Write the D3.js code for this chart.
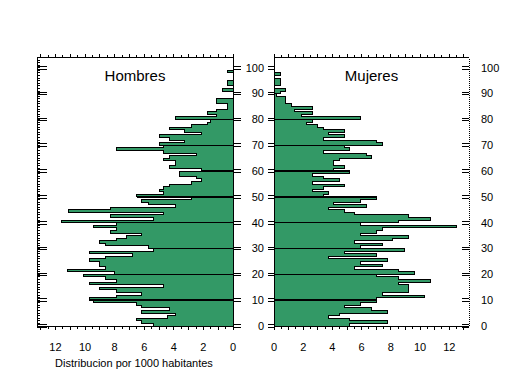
<!DOCTYPE html>
<html>
<head>
<meta charset="utf-8">
<script src="https://cdn.jsdelivr.net/npm/d3@7"></script>
<style>
  body { margin: 0; background: #fff; }
  text { font-family: 'Liberation Sans', Arial, sans-serif; fill: #000; }
</style>
</head>
<body>
<div class="canvas"></div>
<script>
'use strict';

// Distribution per 1000 inhabitants, one value per age (0..100)
var hombres = [
  5.4, 6.2, 6.5, 4.4, 3.9, 6.2, 4.3, 6.2, 6.5, 9.4,
  9.7, 7.9, 6.2, 7.9, 9.0, 4.7, 9.7, 7.9, 8.6, 10.1,
  8.0, 11.2, 8.6, 9.0, 9.0, 9.7, 8.6, 6.8, 9.7, 5.4,
  5.7, 8.6, 9.0, 7.9, 7.2, 6.2, 8.3, 7.9, 9.4, 7.9,
  11.6, 5.4, 8.3, 4.7, 11.1, 8.3, 3.9, 5.7, 6.2, 2.8,
  6.5, 4.7, 5.0, 4.7, 4.3, 2.8, 2.1, 2.5, 3.6, 3.6,
  2.1, 4.3, 3.9, 3.9, 4.7, 4.3, 2.5, 4.7, 7.9, 4.7,
  5.0, 3.3, 4.3, 5.0, 2.1, 3.3, 4.3, 2.8, 1.75, 1.5,
  3.9, 1.1, 1.75, 1.1, 0.34, 0.34, 1.1, 1.1, 0, 0,
  0, 0.7, 0, 0.34, 0.34, 0, 0, 0, 0.34, 0, 0
];
var mujeres = [
  5.2, 7.8, 5.2, 3.7, 4.5, 7.8, 6.7, 4.8, 5.9, 7.0,
  7.0, 10.3, 7.4, 9.2, 9.2, 9.2, 8.5, 10.7, 8.5, 7.0,
  9.6, 8.5, 5.5, 7.4, 5.9, 7.8, 3.7, 7.0, 4.8, 8.9,
  5.9, 7.4, 5.5, 8.1, 9.2, 5.9, 7.0, 7.4, 12.5, 5.9,
  8.5, 10.7, 9.2, 5.5, 4.8, 3.7, 6.3, 4.1, 5.9, 7.0,
  3.4, 3.7, 2.65, 3.4, 4.8, 2.65, 4.5, 3.4, 2.65, 5.2,
  4.1, 4.8, 4.1, 4.1, 4.5, 6.7, 6.3, 3.4, 5.2, 4.8,
  7.4, 7.0, 3.4, 4.8, 3.7, 4.8, 3.4, 3.0, 2.2, 2.65,
  5.9, 1.9, 2.65, 1.4, 2.65, 1.2, 0.8, 0.8, 0.8, 0.2,
  0.45, 0.8, 0, 0.45, 0.45, 0.45, 0, 0.45, 0, 0, 0
];
var ages = d3.range(0, hombres.length);
var ageTicks = [0, 10, 20, 30, 40, 50, 60, 70, 80, 90, 100];
var valueTicks = [0, 2, 4, 6, 8, 10, 12];
var titles = ['Hombres', 'Mujeres'];
var xTitle = 'Distribucion por 1000 habitantes';

var green = '#339966';

var svg = d3.select('.canvas').append('svg').attr('width', 509).attr('height', 376);

// Scales (shared age scale, one value scale per panel)
var y = d3.scaleLinear().domain([0, 104]).range([326, 57.5]);
var xH = d3.scaleLinear().domain([0, 13.25]).range([233, 37]);
var xM = d3.scaleLinear().domain([0, 13.35]).range([274, 469]);

function line(g, x1, y1, x2, y2, w) {
  g.append('line').attr('x1', x1).attr('y1', y1).attr('x2', x2).attr('y2', y2)
    .attr('stroke', '#000').attr('stroke-width', w || 1).attr('shape-rendering', 'crispEdges');
}

// Bars, silhouette and decade lines for one panel
function drawPanel(values, x, lineShift) {
  var g = svg.append('g');

  g.selectAll('rect').data(ages).enter().append('rect')
    .attr('x', function (a) { return Math.min(x(0), x(values[a])); })
    .attr('width', function (a) { return Math.abs(x(values[a]) - x(0)); })
    .attr('y', function (a) { return y(a + 1); })
    .attr('height', function (a) { return y(a) - y(a + 1); })
    .attr('fill', green)
    .attr('shape-rendering', 'crispEdges');

  var pts = [[0, 0]];
  ages.forEach(function (a) { pts.push([values[a], a]); });
  pts.push([values[ages.length - 1], ages.length]);
  pts.push([0, ages.length]);

  var outline = d3.line()
    .x(function (d) { return x(d[0]); })
    .y(function (d) { return y(d[1]); })
    .curve(d3.curveStepBefore);

  g.append('path').attr('d', outline(pts)).attr('fill', 'none')
    .attr('stroke', '#000').attr('stroke-width', 1).attr('shape-rendering', 'crispEdges');

  // Heavier line at each decade
  ageTicks.slice(1, 10).forEach(function (d) {
    var v = values[d + lineShift];
    if (v > 0) line(g, x(0), y(d), x(v), y(d), 1.5);
  });
  return g;
}

drawPanel(hombres, xH, 0);
drawPanel(mujeres, xM, -1);

// Frames and ticks
var ax = svg.append('g');
[xH, xM].forEach(function (x, i) {
  var x0 = x.range()[0], x1 = x.range()[1];
  line(ax, x0, y.range()[1], x1, y.range()[1]);
  line(ax, x0, y.range()[0], x1, y.range()[0]);
  d3.range(0, x.domain()[1], 0.5).forEach(function (v) {
    var len = v % 1 === 0 ? 4 : 3;
    line(ax, x(v), y.range()[1], x(v), y.range()[1] - len);
    line(ax, x(v), y.range()[0], x(v), y.range()[0] + len);
  });
  ax.append('text').attr('x', (x0 + x1) / 2).attr('y', 81)
    .attr('text-anchor', 'middle').attr('font-size', 15).text(titles[i]);
  valueTicks.forEach(function (v) {
    ax.append('text').attr('x', x(v)).attr('y', 351)
      .attr('text-anchor', 'middle').attr('font-size', 11).text(v);
  });
});

// Hombres: left axis with yearly ticks, zero line on the right
line(ax, xH(13.25), y.range()[0], xH(13.25), y.range()[1]);
line(ax, xH(0), y.range()[0], xH(0), y.range()[1]);
d3.range(0, 104).forEach(function (a) {
  line(ax, xH.range()[1], y(a), xH.range()[1] + 3, y(a));
});

// Mujeres: left axis, dotted right edge
line(ax, xM(0), y.range()[0], xM(0), y.range()[1]);
ax.append('line').attr('x1', xM.range()[1]).attr('x2', xM.range()[1])
  .attr('y1', y.range()[0]).attr('y2', y.range()[1])
  .attr('stroke', '#000').attr('stroke-dasharray', '1,1').attr('shape-rendering', 'crispEdges');

ageTicks.forEach(function (d) {
  [-1.3, 1.3].forEach(function (o) {
    line(ax, xH.range()[1], y(d) + o, xH.range()[1] + 10, y(d) + o);
    line(ax, xH(0), y(d) + o, xH(0) + 8, y(d) + o);
    line(ax, xM(0) - 6, y(d) + o, xM(0), y(d) + o);
    line(ax, xM.range()[1] - 7, y(d) + o, xM.range()[1], y(d) + o);
  });
  ax.append('text').attr('x', 264).attr('y', y(d)).attr('dy', '0.35em')
    .attr('text-anchor', 'end').attr('font-size', 11).text(d);
  ax.append('text').attr('x', 481).attr('y', y(d)).attr('dy', '0.35em')
    .attr('font-size', 11).text(d);
});

ax.append('text').attr('x', 134).attr('y', 367)
  .attr('text-anchor', 'middle').attr('font-size', 11).text(xTitle);
</script>
</body>
</html>
